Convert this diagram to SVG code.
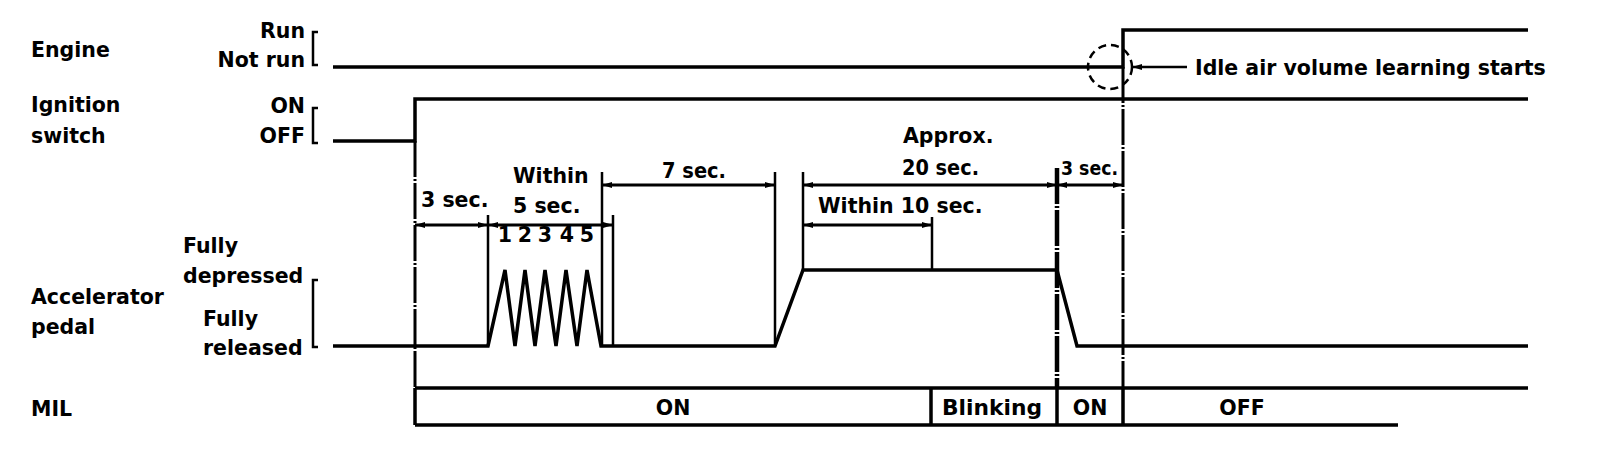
<svg xmlns="http://www.w3.org/2000/svg" width="1600" height="460" viewBox="0 0 1600 460">
<style>
text{font-family:"DejaVu Sans","Liberation Sans",sans-serif;font-weight:bold;font-size:20.5px;fill:#000}
.e{text-anchor:end}
.m{text-anchor:middle}
.sig{fill:none;stroke:#000;stroke-width:3.5}
.br{fill:none;stroke:#000;stroke-width:2.5}
.ext{fill:none;stroke:#000;stroke-width:2.5}
.dim{fill:none;stroke:#000;stroke-width:3;marker-start:url(#ah);marker-end:url(#ah)}
.dash{fill:none;stroke:#000;stroke-width:3;stroke-dasharray:36 2 2 2}
.mil{fill:none;stroke:#000;stroke-width:3.5}
</style>
<defs>
<marker id="ah" markerUnits="userSpaceOnUse" markerWidth="10" markerHeight="8" refX="10" refY="4" orient="auto-start-reverse" viewBox="0 0 10 8"><path d="M0,1 L10,4 L0,7 z"/></marker>
</defs>
<rect width="1600" height="460" fill="#fff"/>

<g id="engine">
<text x="31" y="57">Engine</text>
<text class="e" x="305" y="38">Run</text>
<text class="e" x="305" y="67">Not run</text>
<path class="br" d="M318,32 H313 V65 H318"/>
<polyline class="sig" points="333,67 1123,67 1123,30 1528,30"/>
<circle cx="1110" cy="67" r="22" fill="none" stroke="#000" stroke-width="2.5" stroke-dasharray="8 5"/>
<text x="1195" y="75">Idle air volume learning starts</text>
</g>

<g id="ignition">
<text x="31" y="112">Ignition</text>
<text x="31" y="143">switch</text>
<text class="e" x="305" y="113">ON</text>
<text class="e" x="305" y="143">OFF</text>
<path class="br" d="M318,108 H313 V143 H318"/>
<polyline class="sig" points="333,141 415,141 415,99 1528,99"/>
</g>

<g id="accelerator">
<text x="31" y="304">Accelerator</text>
<text x="31" y="334">pedal</text>
<text x="183" y="253">Fully</text>
<text x="183" y="283">depressed</text>
<text x="203" y="326">Fully</text>
<text x="203" y="355">released</text>
<path class="br" d="M318,280 H313 V347 H318"/>
<polyline class="sig" points="333,346 488,346 505,270 515,346 525,270 535,346 545,270 556,346 566,270 577,346 587,270 601,346 775,346 803,270 1057,270 1077,346 1528,346"/>
<g style="font-size:18px" class="m">
<text x="505" y="242">1</text>
<text x="525" y="242">2</text>
<text x="545" y="242">3</text>
<text x="567" y="242">4</text>
<text x="587" y="242">5</text>
</g>
</g>

<g id="mil">
<text x="31" y="416">MIL</text>
<path class="mil" d="M415,388 H1528 M415,425 H1398 M415,388 V425 M931,388 V425 M1057,388 V425 M1123,388 V425"/>
<text class="m" x="673" y="415">ON</text>
<text class="m" x="992" y="415" textLength="100" lengthAdjust="spacingAndGlyphs">Blinking</text>
<text class="m" x="1090" y="415">ON</text>
<text class="m" x="1242" y="415">OFF</text>
</g>

<g id="connectors">
<line class="dash" x1="415" y1="141" x2="415" y2="388"/>
<line class="dash" x1="1057" y1="168" x2="1057" y2="388" style="stroke-width:4.5"/>
<line class="dash" x1="1123" y1="67" x2="1123" y2="388"/>
<path class="ext" d="M488,215 V346 M602,172 V346 M613,215 V346 M775,172 V346 M803,172 V270 M932,217 V270"/>
<line class="dim" x1="415" y1="225" x2="488" y2="225"/>
<line class="dim" x1="488" y1="225" x2="613" y2="225"/>
<line class="dim" x1="803" y1="225" x2="932" y2="225"/>
<line class="dim" x1="602" y1="185" x2="775" y2="185"/>
<line class="dim" x1="803" y1="185" x2="1057" y2="185"/>
<line class="dim" x1="1057" y1="185" x2="1123" y2="185"/>
<line x1="1132" y1="67" x2="1187" y2="67" stroke="#000" stroke-width="2.5" marker-start="url(#ah)"/>
<text x="421" y="207">3 sec.</text>
<text x="513" y="183">Within</text>
<text x="513" y="213">5 sec.</text>
<text x="662" y="178" textLength="64" lengthAdjust="spacingAndGlyphs">7 sec.</text>
<text x="903" y="143">Approx.</text>
<text x="902" y="175" textLength="77" lengthAdjust="spacingAndGlyphs">20 sec.</text>
<text x="818" y="213">Within 10 sec.</text>
<text x="1061" y="175" style="font-size:19px" textLength="57" lengthAdjust="spacingAndGlyphs">3 sec.</text>
</g>
</svg>
